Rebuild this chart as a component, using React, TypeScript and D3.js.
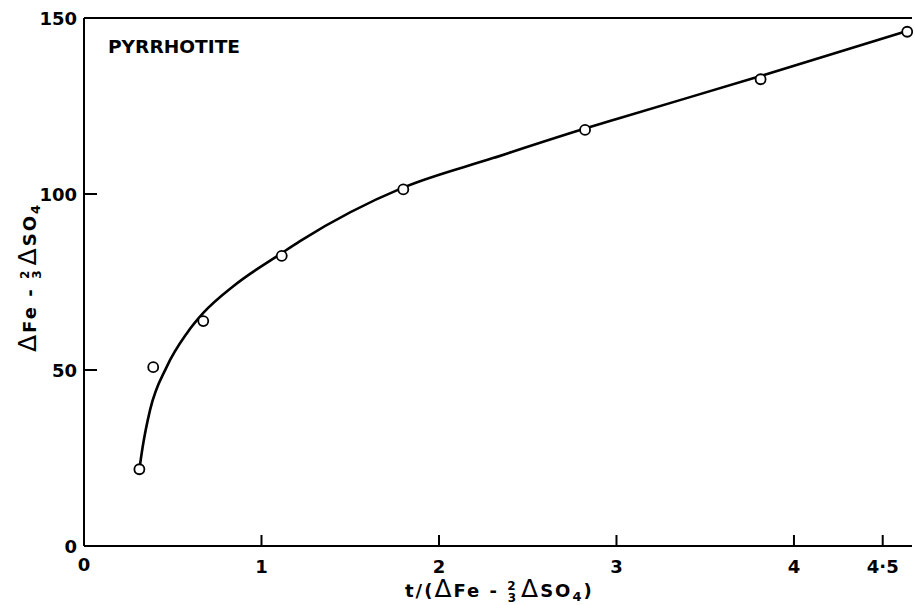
import React from 'react';
import * as d3 from 'd3';

// measured points (open circles)
const pointX = [0.312, 0.39, 0.672, 1.114, 1.799, 2.823, 3.812, 4.638];
const pointY = [21.8, 50.8, 63.9, 82.4, 101.3, 118.2, 132.6, 146.1];

// hand-drawn fitted curve
const curveX = [0.312, 0.33, 0.372, 0.466, 0.579, 0.672, 0.841, 1.114, 1.217, 1.797, 2.304, 2.823, 3.02, 3.812, 4.637];
const curveY = [21.8, 28, 38.6, 50.9, 60.4, 66.2, 73.8, 83.2, 86.6, 101.8, 110.2, 118.6, 121.6, 133.5, 146.3];

const xTicks = [0, 1, 2, 3, 4, 4.5];
const xTickLabels = ['0', '1', '2', '3', '4', '4·5'];
const yTicks = [0, 50, 100, 150];
const yTickLabels = ['0', '50', '100', '150'];

const W = 915;
const H = 605;
const FONT = "'DejaVu Sans', 'Liberation Sans', sans-serif";

// label made of "ΔFe - 2/3 ΔSO4", placed with tspans
function DeltaLabel({ prefix, suffix }: { prefix?: string; suffix?: string }) {
  return (
    <>
      {prefix && <tspan>{prefix}</tspan>}
      <tspan fontSize={25} fontWeight="normal">Δ</tspan>
      <tspan>Fe - </tspan>
      <tspan fontSize={12} dy={-7}>2</tspan>
      <tspan fontSize={12} dx={-10} dy={12}>3</tspan>
      <tspan dx={3} fontSize={25} fontWeight="normal" dy={-5}>Δ</tspan>
      <tspan>SO</tspan>
      <tspan fontSize={13} dy={4}>4</tspan>
      {suffix && <tspan dy={-4}>{suffix}</tspan>}
    </>
  );
}

export default function App() {
  const x = d3.scaleLinear().domain([0, 4.665]).range([84, 912]);
  const y = d3.scaleLinear().domain([0, 150]).range([546, 18]);

  const line = d3
    .line<number>()
    .x((d, i) => x(curveX[i]))
    .y((d, i) => y(curveY[i]))
    .curve(d3.curveMonotoneX);

  const x0 = x(0);
  const y0 = y(0);
  const yTop = y(150);
  const xRight = x(4.665);

  return (
    <svg
      width={W}
      height={H}
      style={{ position: 'absolute', left: 0, top: 0, background: '#fff' }}
      fontFamily={FONT}
      fontWeight="bold"
    >
      {/* frame: left, bottom, top */}
      <line x1={x0} y1={yTop} x2={x0} y2={y0} stroke="#000" strokeWidth={2} />
      <line x1={x0} y1={y0} x2={xRight} y2={y0} stroke="#000" strokeWidth={2} />
      <line x1={x0} y1={yTop} x2={xRight} y2={yTop} stroke="#000" strokeWidth={2} />

      {/* x ticks */}
      {xTicks.map((t, i) => (
        <g key={'xt' + i}>
          {t > 0 && (
            <line x1={x(t)} y1={y0} x2={x(t)} y2={y0 - 11} stroke="#000" strokeWidth={2} />
          )}
          <text x={x(t)} y={t === 0 ? 571 : 573} textAnchor="middle" fontSize={18}>
            {xTickLabels[i]}
          </text>
        </g>
      ))}

      {/* y ticks */}
      {yTicks.map((t, i) => (
        <g key={'yt' + i}>
          {t > 0 && t < 150 && (
            <line x1={x0} y1={y(t)} x2={x0 + 13} y2={y(t)} stroke="#000" strokeWidth={2} />
          )}
          <text x={77} y={y(t) + 7} textAnchor="end" fontSize={18}>
            {yTickLabels[i]}
          </text>
        </g>
      ))}

      {/* fitted curve */}
      <path d={line(curveX) || ''} fill="none" stroke="#000" strokeWidth={2.6} />

      {/* data points */}
      {pointX.map((px, i) => (
        <circle
          key={'p' + i}
          cx={x(px)}
          cy={y(pointY[i])}
          r={5}
          fill="#fff"
          stroke="#000"
          strokeWidth={1.8}
        />
      ))}

      <text x={108} y={53} fontSize={17} textLength={132} lengthAdjust="spacingAndGlyphs">
        PYRRHOTITE
      </text>

      {/* x axis title */}
      <text x={405} y={597} fontSize={18} letterSpacing={2}>
        <DeltaLabel prefix="t/(" suffix=")" />
      </text>

      {/* y axis title */}
      <text transform="translate(36,352) rotate(-90)" fontSize={18} letterSpacing={2}>
        <DeltaLabel />
      </text>
    </svg>
  );
}
